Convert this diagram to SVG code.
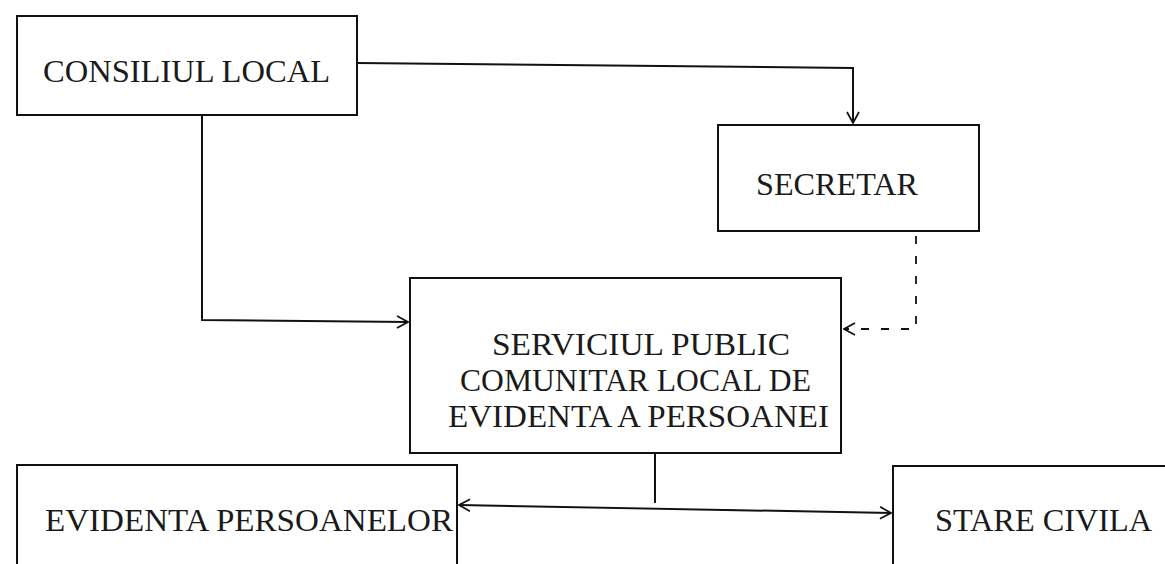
<svg xmlns="http://www.w3.org/2000/svg" width="1165" height="564" viewBox="0 0 1165 564">
  <style>
    .box { fill: none; stroke: #111; stroke-width: 2; }
    .lbl { font-family: "Liberation Serif", "Times New Roman", serif; font-size: 32px; fill: #1a1a1a; }
    .conn { fill: none; stroke: #111; stroke-width: 2; }
    .dash { stroke-dasharray: 8 12; stroke-width: 1.8; }
  </style>
  <defs>
    <marker id="arr" viewBox="0 0 14 14" refX="13" refY="7" markerWidth="14" markerHeight="14" markerUnits="userSpaceOnUse" orient="auto-start-reverse">
      <path d="M2,1 L13,7 L2,13" fill="none" stroke="#111" stroke-width="1.7"/>
    </marker>
  </defs>
  <rect width="1165" height="564" fill="#ffffff"/>

  <g id="consiliul-local">
    <rect class="box" x="17" y="16" width="340" height="99"/>
    <text class="lbl" x="43" y="82" textLength="287" lengthAdjust="spacingAndGlyphs">CONSILIUL LOCAL</text>
  </g>

  <g id="secretar">
    <rect class="box" x="718" y="125" width="261" height="106"/>
    <text class="lbl" x="756" y="195" textLength="162" lengthAdjust="spacingAndGlyphs">SECRETAR</text>
  </g>

  <g id="serviciul-public">
    <rect class="box" x="410" y="278" width="431" height="175"/>
    <text class="lbl">
      <tspan x="492" y="355" textLength="298" lengthAdjust="spacingAndGlyphs">SERVICIUL PUBLIC</tspan>
      <tspan x="460" y="391" textLength="351" lengthAdjust="spacingAndGlyphs">COMUNITAR LOCAL DE</tspan>
      <tspan x="448" y="427" textLength="381" lengthAdjust="spacingAndGlyphs">EVIDENTA A PERSOANEI</tspan>
    </text>
  </g>

  <g id="evidenta-persoanelor">
    <rect class="box" x="17" y="465" width="440" height="120"/>
    <text class="lbl" x="45" y="531" textLength="408" lengthAdjust="spacingAndGlyphs">EVIDENTA PERSOANELOR</text>
  </g>

  <g id="stare-civila">
    <rect class="box" x="893" y="466" width="300" height="120"/>
    <text class="lbl" x="935" y="531" textLength="217" lengthAdjust="spacingAndGlyphs">STARE CIVILA</text>
  </g>

  <g id="connectors">
    <path class="conn" d="M357,63 L853,68 L853,123" marker-end="url(#arr)"/>
    <path class="conn" d="M202,115 L202,320 L408,322" marker-end="url(#arr)"/>
    <path class="conn dash" d="M916,236 L916,329 L844,329" marker-end="url(#arr)"/>
    <path class="conn" d="M655,453 L655,503"/>
    <path class="conn" d="M459,505 L891,513" marker-start="url(#arr)" marker-end="url(#arr)"/>
  </g>
</svg>
